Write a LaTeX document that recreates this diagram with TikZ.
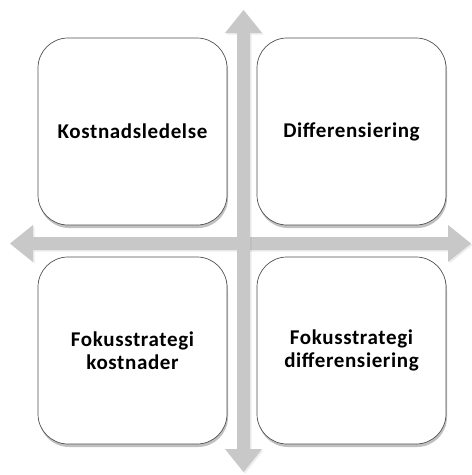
\documentclass[tikz,border=0pt]{standalone}
\usepackage{fontspec}
\setmainfont{Carlito}[LetterSpace=3]
\usetikzlibrary{shadows,calc}
\definecolor{axisgray}{RGB}{200,200,200}
\definecolor{boxline}{RGB}{80,80,80}
\tikzset{
  quadrant/.style={draw=boxline, line width=0.7pt, fill=white,
    rounded corners=30pt, minimum width=189pt, minimum height=187pt,
    align=center, inner sep=0pt,
    font=\fontsize{21}{23}\selectfont\bfseries,
    drop shadow={shadow xshift=1pt, shadow yshift=-3pt, opacity=0.35, fill=black!70}},
  axis/.style={fill=axisgray,
    drop shadow={shadow xshift=1.5pt, shadow yshift=-1.5pt, opacity=0.15}}
}
\begin{document}
\begin{tikzpicture}[x=1pt,y=-1pt]
\useasboundingbox (0,0) rectangle (472,475);
% horizontal axis: tips at x=10 and x=471, centred on y=243.5
\coordinate (hl) at (10,243.5);
\coordinate (hr) at (471,243.5);
\fill[axis] (hl) -- ++(23,-18.5) -- ++(0,12) -- ($(hr)+(-23,-6.5)$) -- ++(0,-12)
  -- (hr) -- ++(-23,18.5) -- ++(0,-12) -- ($(hl)+(23,6.5)$) -- ++(0,12) -- cycle;
% vertical axis: tips at y=10 and y=472, centred on x=243.5
\coordinate (vt) at (243.5,10);
\coordinate (vb) at (243.5,472);
\fill[axis] (vt) -- ++(18.5,23) -- ++(-12,0) -- ($(vb)+(6.5,-23)$) -- ++(12,0)
  -- (vb) -- ++(-18.5,-23) -- ++(12,0) -- ($(vt)+(-6.5,23)$) -- ++(-12,0) -- cycle;
% the four strategy boxes
\node[quadrant] (kost) at (132.5,131.5) {Kostnadsledelse};
\node[quadrant] (diff) at (351.5,131.5) {Differensiering};
\node[quadrant] (fkost) at (132.5,350.5) {Fokusstrategi\\kostnader};
\node[quadrant] (fdiff) at (351.5,350.5) {Fokusstrategi\\differensiering};
\end{tikzpicture}
\end{document}
